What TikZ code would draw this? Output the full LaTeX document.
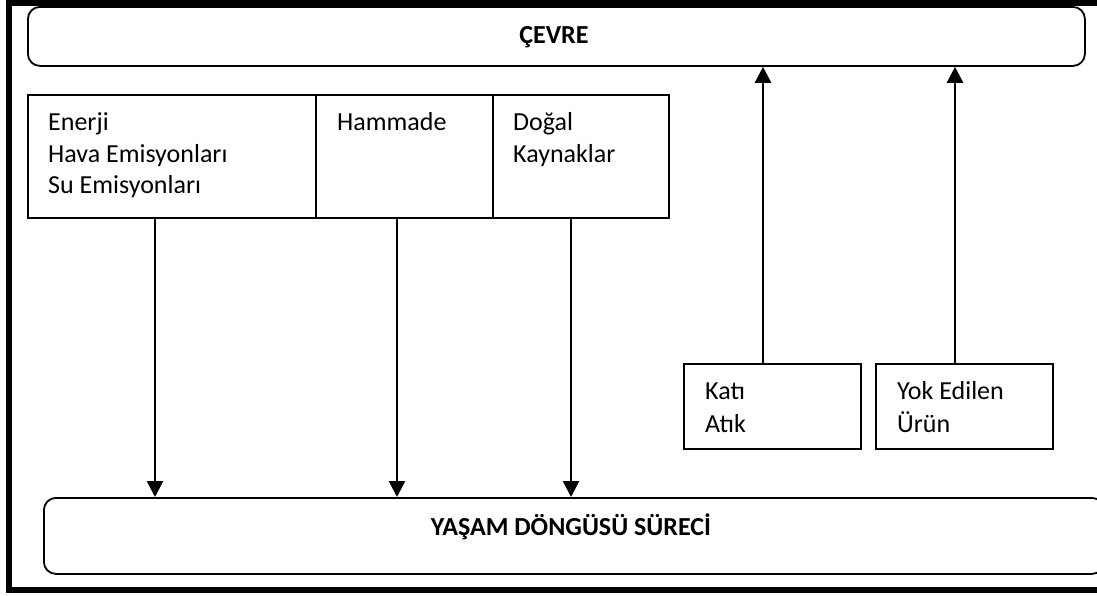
\documentclass[tikz,border=0pt]{standalone}
\usepackage{fontspec}
\setmainfont{Carlito}
\usetikzlibrary{arrows.meta}
\begin{document}
\begin{tikzpicture}[x=1pt,y=-1pt,
  rbox/.style={draw,line width=1.8pt,rounded corners=12pt,inner sep=0pt,anchor=north west},
  sbox/.style={draw,line width=1.8pt,inner sep=0pt,anchor=north west},
  txt/.style={anchor=base west,inner sep=0pt,font=\fontsize{26}{32}\selectfont},
  ttl/.style={anchor=base,inner sep=0pt,font=\fontsize{26}{32}\selectfont\bfseries},
  arr/.style={line width=2.5pt,-{Triangle[width=16pt,length=16pt]}}]
\useasboundingbox (0,0) rectangle (1097,595);
\clip (0,0) rectangle (1097,595);
% outer frame (open on the right, cut by the page)
\draw[line width=6pt] (1110,3) -- (9,3) -- (9,590) -- (1110,590);
% environment box
\node[rbox,minimum width=1057pt,minimum height=59pt] (cevre) at (27,6) {};
\node[ttl] (cevret) at (554,43) {ÇEVRE};
% life cycle box
\node[rbox,minimum width=1060pt,minimum height=76pt] (yasam) at (43,497) {};
\node[ttl] (yasamt) at (571,535) {YAŞAM DÖNGÜSÜ SÜRECİ};
% input boxes
\node[sbox,minimum width=288pt,minimum height=123pt] (enerji) at (27,94) {};
\node[sbox,minimum width=177pt,minimum height=123pt] (ham) at (315,94) {};
\node[sbox,minimum width=176pt,minimum height=123pt] (dogal) at (492,94) {};
\node[txt] (t1) at (48,130) {Enerji};
\node[txt] (t2) at (48,162) {Hava Emisyonları};
\node[txt] (t3) at (48,193) {Su Emisyonları};
\node[txt] (t4) at (337,130) {Hammade};
\node[txt] (t5) at (513,130) {Doğal};
\node[txt] (t6) at (513,162) {Kaynaklar};
% output boxes
\node[sbox,minimum width=177pt,minimum height=85pt] (kati) at (683,363) {};
\node[sbox,minimum width=177pt,minimum height=85pt] (yok) at (875,363) {};
\node[txt] (t7) at (705,399) {Katı};
\node[txt] (t8) at (705,432) {Atık};
\node[txt] (t9) at (897,399) {Yok Edilen};
\node[txt] (t10) at (897,432) {Ürün};
% arrow columns
\coordinate (c1) at (155,0);
\coordinate (c2) at (397,0);
\coordinate (c3) at (571,0);
\coordinate (c4) at (763,0);
\coordinate (c5) at (955,0);
\draw[arr] (enerji.south -| c1) -- (yasam.north -| c1);
\draw[arr] (ham.south -| c2) -- (yasam.north -| c2);
\draw[arr] (dogal.south -| c3) -- (yasam.north -| c3);
\draw[arr] (kati.north -| c4) -- (cevre.south -| c4);
\draw[arr] (yok.north -| c5) -- (cevre.south -| c5);
\end{tikzpicture}
\end{document}
